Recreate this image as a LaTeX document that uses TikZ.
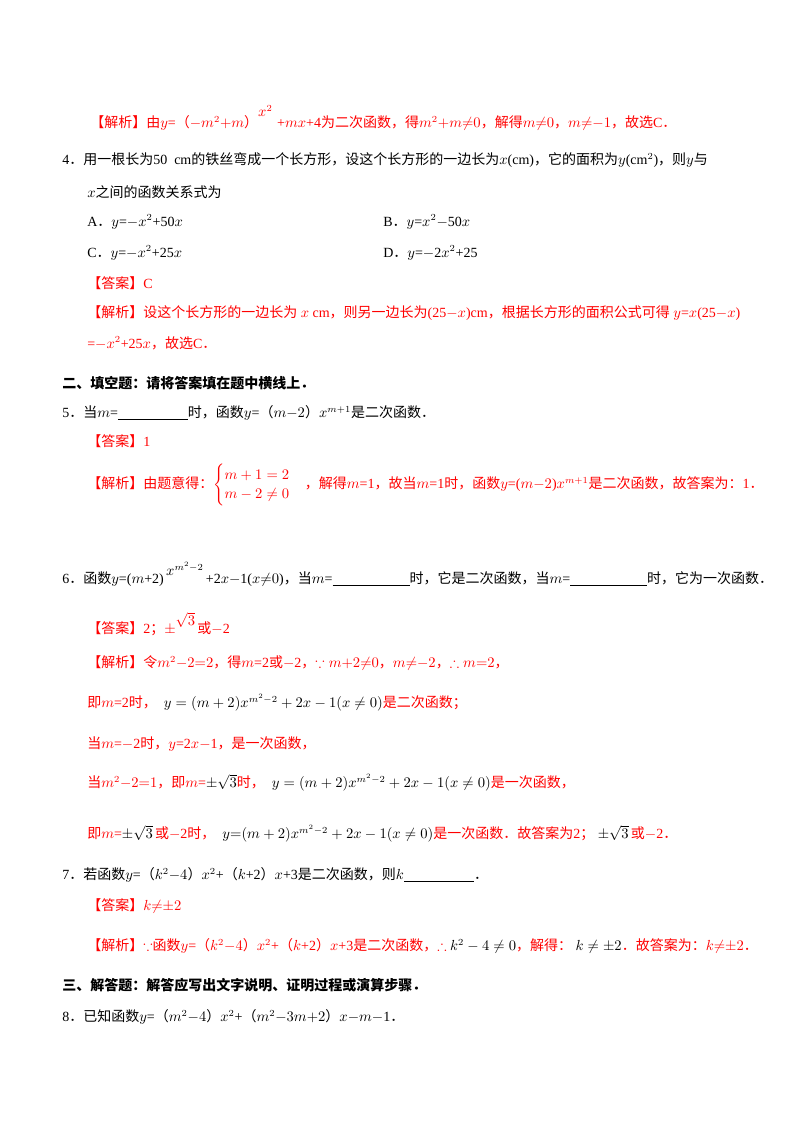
\documentclass[tikz,border=0pt]{standalone}
\usepackage{amsmath,amssymb}
\usepackage{fontspec}
\setmainfont{Liberation Serif}
\newfontfamily\cjkf{Noto Sans CJK SC}
\newcommand\zh[1]{{\cjkf #1}}
\newcommand\dd{{\cjkf ．}}
\begin{document}
\begin{tikzpicture}[x=0.75pt,y=-0.75pt,
 t/.style={anchor=west,inner sep=0pt,font=\fontsize{10.5}{12}\selectfont},
 r/.style={t,text=red}]
\useasboundingbox (0,0) rectangle (800,1132);
\node[r] (l1) at (90,118) {\zh{【解析】由}$y$=\zh{（}$-m^2{+}m$\zh{）}\raisebox{8pt}{$x^2$}\,\,+$mx$+4\zh{为二次函数，得}$m^2{+}m{\neq}0$\zh{，解得}$m{\neq}0$\zh{，}$m{\neq}{-}1$\zh{，故选}C\dd};
\node[t] (q4) at (62,160) {4\dd\zh{用一根长为}50\ \ cm\zh{的铁丝弯成一个长方形，设这个长方形的一边长为}$x$(cm)\zh{，它的面积为}$y$(cm$^2$)\zh{，则}$y$\zh{与}};
\node[t] (q4b) at (87,192) {$x$\zh{之间的函数关系式为}};
\node[t] (oa) at (87,222) {A\dd$y$=$-x^2$+50$x$};
\node[t] (ob) at (383,222) {B\dd$y$=$x^2$$-$50$x$};
\node[t] (oc) at (87,253) {C\dd$y$=$-x^2$+25$x$};
\node[t] (od) at (383,253) {D\dd$y$=$-$2$x^2$+25};
\node[r] (a4) at (87,283) {\zh{【答案】}C};
\node[r] (j4) at (87,313) {\zh{【解析】设这个长方形的一边长为} $x$ cm\zh{，则另一边长为}(25$-x$)cm\zh{，根据长方形的面积公式可得} $y$=$x$(25$-x$)};
\node[r] (j4b) at (87,343) {=$-x^2$+25$x$\zh{，故选}C\dd};
\node[t] (s2) at (62,383) {\zh{\bfseries 二、填空题：请将答案填在题中横线上．}};
\node[t] (q5) at (62,413) {5\dd\zh{当}$m$=\underline{\hspace{5em}}\zh{时，函数}$y$=\zh{（}$m{-}2$\zh{）}$x^{m+1}$\zh{是二次函数}\dd};
\node[r] (a5) at (87,441) {\zh{【答案】}1};
\node[r] (j5) at (87,485) {\zh{【解析】由题意得：}$\begin{cases}m+1=2\\ m-2\neq0\end{cases}$\zh{，解得}$m$=1\zh{，故当}$m$=1\zh{时，函数}$y$=($m{-}2$)$x^{m+1}$\zh{是二次函数，故答案为：}1\dd};
\node[t] (q6) at (62,574) {6\dd\zh{函数}$y$=($m$+2)\,\raisebox{6pt}{$x^{m^2-2}$}\,+2$x$$-$1($x{\neq}0$)\zh{，当}$m$=\underline{\hspace{5.5em}}\zh{时，它是二次函数，当}$m$=\underline{\hspace{5.5em}}\zh{时，它为一次函数}\dd};
\node[r] (a6) at (87,624) {\zh{【答案】}2\zh{；}$\pm$\raisebox{6pt}{$\sqrt3$}\,\zh{或}$-$2};
\node[r] (j6) at (87,663) {\zh{【解析】令}$m^2{-}2{=}2$\zh{，得}$m$=2\zh{或}$-$2\zh{，}$\because m{+}2{\neq}0$\zh{，}$m{\neq}{-}2$\zh{，}$\therefore m{=}2$\zh{，}};
\node[r] (j6b) at (87,703) {\zh{即}$m$=2\zh{时，}\ \ \textcolor{black}{$y=(m+2)x^{m^2-2}+2x-1(x\neq0)$}\zh{是二次函数；}};
\node[r] (j6c) at (87,744) {\zh{当}$m$=$-$2\zh{时，}$y$=2$x$$-$1\zh{，是一次函数，}};
\node[r] (j6d) at (87,783) {\zh{当}$m^2{-}2{=}1$\zh{，即}$m$=\textcolor{black}{$\pm\sqrt3$}\zh{时，}\ \ \textcolor{black}{$y=(m+2)x^{m^2-2}+2x-1(x\neq0)$}\zh{是一次函数，}};
\node[r] (j6e) at (87,834) {\zh{即}$m$=\textcolor{black}{$\pm\sqrt3$}\,\zh{或}$-$2\zh{时，}\ \ \textcolor{black}{$y{=}(m+2)x^{m^2-2}+2x-1(x\neq0)$}\zh{是一次函数．故答案为}2\zh{；}\ \textcolor{black}{$\pm\sqrt3$}\,\zh{或}$-$2\dd};
\node[t] (q7) at (62,875) {7\dd\zh{若函数}$y$=\zh{（}$k^2{-}4$\zh{）}$x^2$+\zh{（}$k$+2\zh{）}$x$+3\zh{是二次函数，则}$k$\underline{\hspace{5em}}\dd};
\node[r] (a7) at (87,906) {\zh{【答案】}$k{\neq}{\pm}2$};
\node[r] (j7) at (87,946) {\zh{【解析】}$\because$\zh{函数}$y$=\zh{（}$k^2{-}4$\zh{）}$x^2$+\zh{（}$k$+2\zh{）}$x$+3\zh{是二次函数，}$\therefore$\ \textcolor{black}{$k^2-4\neq0$}\zh{，解得：}\ \textcolor{black}{$k\neq\pm2$}\zh{．故答案为：}$k{\neq}{\pm}2$\dd};
\node[t] (s3) at (62,985) {\zh{\bfseries 三、解答题：解答应写出文字说明、证明过程或演算步骤．}};
\node[t] (q8) at (62,1017) {8\dd\zh{已知函数}$y$=\zh{（}$m^2{-}4$\zh{）}$x^2$+\zh{（}$m^2{-}3m{+}2$\zh{）}$x$$-m-$1\dd};
\end{tikzpicture}
\end{document}
